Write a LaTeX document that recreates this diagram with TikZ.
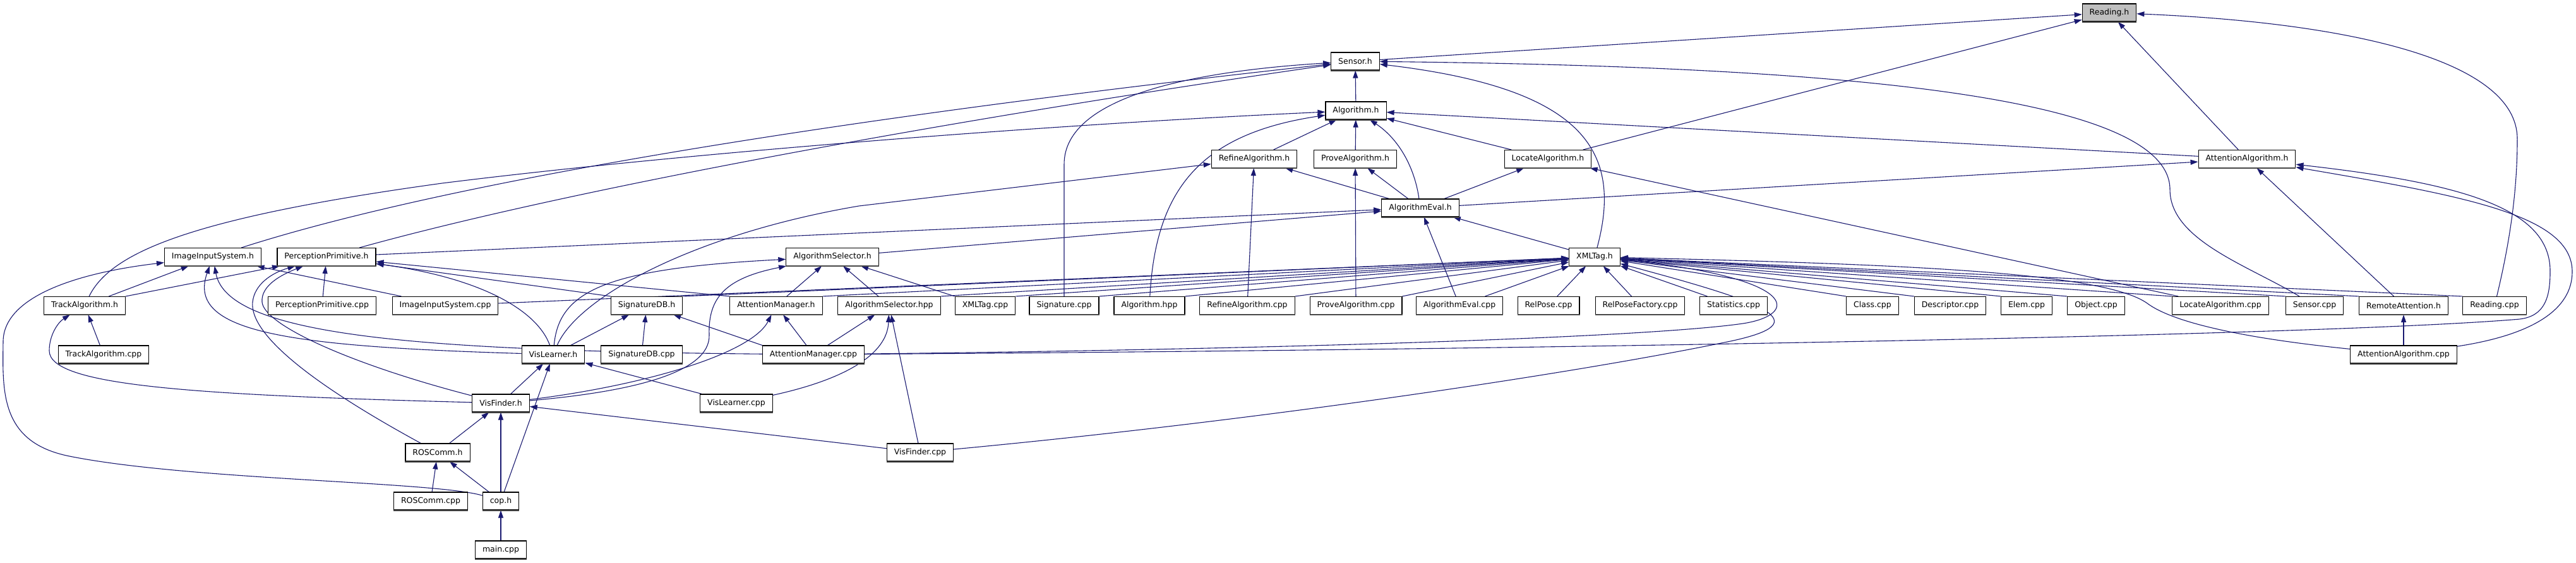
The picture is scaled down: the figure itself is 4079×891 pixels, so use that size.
\documentclass[tikz,border=0pt]{standalone}
\usepackage{fontspec}
\setmainfont{DejaVu Sans}
\usetikzlibrary{arrows.meta,backgrounds}
\definecolor{edgeblue}{RGB}{25,25,112}
\definecolor{shadowgray}{RGB}{70,70,70}
\definecolor{readgray}{RGB}{191,191,191}
\tikzset{
  box/.style={draw=black, line width=1.1pt, fill=white, rectangle, minimum height=28pt,
    inner xsep=11.5pt, inner ysep=0pt, font=\fontsize{12.5}{15}\selectfont},
  e/.style={draw=edgeblue, line width=1.1pt, -{Triangle[length=12pt,width=8pt]}},
}
\begin{document}
\begin{tikzpicture}[x=1pt,y=-1pt]
\useasboundingbox (0,0) rectangle (4079,891);
% row 0-4
\node[box,fill=readgray] (rh) at (3340,20) {Reading.h};
\node[box] (sh) at (2146,97) {Sensor.h};
\node[box] (ah) at (2147,175) {Algorithm.h};
\node[box] (rah) at (1986,251.5) {RefineAlgorithm.h};
\node[box] (pah) at (2146,251.5) {ProveAlgorithm.h};
\node[box] (lah) at (2451,251.5) {LocateAlgorithm.h};
\node[box] (aah) at (3558,251.5) {AttentionAlgorithm.h};
\node[box] (aeh) at (2249,329) {AlgorithmEval.h};
% row 5
\node[box] (iish) at (337,406.5) {ImageInputSystem.h};
\node[box] (pph) at (517,406.5) {PerceptionPrimitive.h};
\node[box] (ash) at (1318,406.5) {AlgorithmSelector.h};
\node[box] (xh) at (2525,406.5) {XMLTag.h};
% row 6
\node[box] (tah) at (134,483.5) {TrackAlgorithm.h};
\node[box] (ppc) at (510,483.5) {PerceptionPrimitive.cpp};
\node[box] (iisc) at (705,483.5) {ImageInputSystem.cpp};
\node[box] (sdh) at (1024,483.5) {SignatureDB.h};
\node[box] (amh) at (1229,483.5) {AttentionManager.h};
\node[box] (ashpp) at (1408,483.5) {AlgorithmSelector.hpp};
\node[box] (xc) at (1560,483.5) {XMLTag.cpp};
\node[box] (sigc) at (1685,483.5) {Signature.cpp};
\node[box] (ahpp) at (1820,483.5) {Algorithm.hpp};
\node[box] (rac) at (1975,483.5) {RefineAlgorithm.cpp};
\node[box] (pac) at (2147,483.5) {ProveAlgorithm.cpp};
\node[box] (aec) at (2311,483.5) {AlgorithmEval.cpp};
\node[box] (rpc) at (2452,483.5) {RelPose.cpp};
\node[box] (rpfc) at (2597,483.5) {RelPoseFactory.cpp};
\node[box] (stc) at (2745,483.5) {Statistics.cpp};
\node[box] (clc) at (2965,483.5) {Class.cpp};
\node[box] (dec) at (3088,483.5) {Descriptor.cpp};
\node[box] (elc) at (3209,483.5) {Elem.cpp};
\node[box] (obc) at (3319,483.5) {Object.cpp};
\node[box] (lac) at (3516,483.5) {LocateAlgorithm.cpp};
\node[box] (sec) at (3665,483.5) {Sensor.cpp};
\node[box] (rath) at (3806,483.5) {RemoteAttention.h};
\node[box] (rc) at (3950,483.5) {Reading.cpp};
% row 7
\node[box] (tac) at (164,561) {TrackAlgorithm.cpp};
\node[box] (vlh) at (876,561) {VisLearner.h};
\node[box] (sdc) at (1016,561) {SignatureDB.cpp};
\node[box] (amc) at (1288,561) {AttentionManager.cpp};
\node[box] (aac) at (3806,561) {AttentionAlgorithm.cpp};
% row 8-11
\node[box] (vfh) at (793,638) {VisFinder.h};
\node[box] (vlc) at (1166,638) {VisLearner.cpp};
\node[box] (rch) at (693,716) {ROSComm.h};
\node[box] (vfc) at (1457,716) {VisFinder.cpp};
\node[box] (rcc) at (682,793) {ROSComm.cpp};
\node[box] (coph) at (793,793) {cop.h};
\node[box] (mainc) at (793,870) {main.cpp};
% shadow lines
\foreach \n in {rh,sh,ah,rah,pah,lah,aah,aeh,iish,pph,ash,xh,tah,ppc,iisc,sdh,amh,ashpp,xc,sigc,ahpp,rac,pac,aec,rpc,rpfc,stc,clc,dec,elc,obc,lac,sec,rath,rc,tac,vlh,sdc,amc,aac,vfh,vlc,rch,vfc,rcc,coph,mainc}
  \draw[shadowgray, line width=2pt] (\n.south west) -- (\n.south east);

\begin{scope}[on background layer]
% into Reading.h
\draw[e] (sh) -- (rh);
\draw[e] (lah) -- (rh);
\draw[e] (aah) -- (rh);
\draw[e] (rc) .. controls (3975,380) and (3986,300) .. (3986,220) .. controls (3986,90) and (3700,35) .. (rh);
% into Sensor.h
\draw[e] (ah) -- (sh);
\draw[e] (iish) .. controls (700,290) and (1300,190) .. (sh);
\draw[e] (pph) .. controls (900,300) and (1500,190) .. (sh);
\draw[e] (sigc) -- (1685,260) .. controls (1685,150) and (1900,112) .. (sh);
\draw[e] (sec) .. controls (3560,420) and (3436,380) .. (3436,300) .. controls (3436,150) and (2900,105) .. (sh);
\draw[e] (xh) .. controls (2570,240) and (2510,140) .. (sh);
% into Algorithm.h
\draw[e] (tah) .. controls (175,400) and (300,345) .. (700,290) .. controls (1100,240) and (1700,195) .. (ah);
\draw[e] (ahpp) .. controls (1830,300) and (1900,212) .. (ah);
\draw[e] (rah) -- (ah);
\draw[e] (pah) -- (ah);
\draw[e] (aeh) .. controls (2240,265) and (2215,220) .. (ah);
\draw[e] (lah) -- (ah);
\draw[e] (aah) -- (ah);
% into RefineAlgorithm.h, ProveAlgorithm.h, LocateAlgorithm.h
\draw[e] (vlh) .. controls (915,470) and (1100,370) .. (1360,326) -- (rah);
\draw[e] (rac) -- (rah);
\draw[e] (aeh) -- (rah);
\draw[e] (pac) -- (pah);
\draw[e] (aeh) -- (pah);
\draw[e] (aeh) -- (lah);
\draw[e] (lac) -- (lah);
% into AttentionAlgorithm.h
\draw[e] (aeh) -- (aah);
\draw[e] (rath) -- (aah);
\draw[e] (amc) .. controls (2500,553) and (3700,530) .. (3990,505) .. controls (4030,500) and (4038,470) .. (4038,430) .. controls (4039,330) and (3900,290) .. (aah);
\draw[e] (aac) .. controls (4010,530) and (4073,490) .. (4073,430) .. controls (4073,340) and (3900,310) .. (aah);
% into AlgorithmEval.h
\draw[e] (pph) -- (aeh);
\draw[e] (ash) -- (aeh);
\draw[e] (aec) -- (aeh);
\draw[e] (xh) -- (aeh);
% into AlgorithmSelector.h
\draw[e] (vlh) .. controls (885,460) and (960,425) .. (ash);
\draw[e] (vfh) .. controls (1000,620) and (1125,590) .. (1123,530) .. controls (1121,470) and (1150,440) .. (ash);
\draw[e] (amh) -- (ash);
\draw[e] (ashpp) -- (ash);
\draw[e] (xc.north west) -- (ash);
% into XMLTag.h
\draw[e] (iisc) -- (xh);
\draw[e] (sdh.north east) -- (xh);
\draw[e] (amh.north east) -- (xh);
\draw[e] (ashpp.north east) -- (xh);
\draw[e] (xc.north east) -- (xh);
\draw[e] (sigc.north east) -- (xh);
\draw[e] (ahpp.north east) -- (xh);
\draw[e] (rac.north east) -- (xh);
\draw[e] (pac.north east) -- (xh);
\draw[e] (aec) -- (xh);
\draw[e] (rpc) -- (xh);
\draw[e] (rpfc) -- (xh);
\draw[e] (stc) -- (xh);
\draw[e] (clc.north west) -- (xh);
\draw[e] (dec.north west) -- (xh);
\draw[e] (elc.north west) -- (xh);
\draw[e] (obc.north west) -- (xh);
\draw[e] (lac.north west) -- (xh);
\draw[e] (sec.north west) -- (xh);
\draw[e] (rath.north west) -- (xh);
\draw[e] (rc.north west) -- (xh);
\draw[e] (amc) .. controls (2000,553) and (2600,535) .. (2760,512) .. controls (2850,498) and (2850,440) .. (xh);
\draw[e] (vfc) .. controls (2000,665) and (2500,590) .. (2740,540) .. controls (2880,510) and (2800,480) .. (xh);
\draw[e] (aac) .. controls (3550,535) and (3440,510) .. (3400,480) .. controls (3330,430) and (3000,418) .. (xh);
% into ImageInputSystem.h
\draw[e] (tah) -- (iish);
\draw[e] (iisc) -- (iish);
\draw[e] (vlh) .. controls (450,548) and (295,525) .. (iish);
\draw[e] (amc) .. controls (650,555) and (360,530) .. (iish);
\draw[e] (coph) .. controls (690,762) and (300,760) .. (110,722) .. controls (0,700) and (4,620) .. (5,540) .. controls (6,470) and (120,432) .. (iish);
% into PerceptionPrimitive.h
\draw[e] (tah.north east) -- (pph);
\draw[e] (ppc) -- (pph);
\draw[e] (sdh.north west) -- (pph);
\draw[e] (amh.north west) -- (pph);
\draw[e] (rch) .. controls (480,600) and (395,525) .. (400,478) .. controls (403,450) and (430,432) .. (pph);
\draw[e] (vfh) .. controls (560,578) and (418,515) .. (415,478) .. controls (413,452) and (445,435) .. (pph);
\draw[e] (vlh) .. controls (850,490) and (760,440) .. (pph);
% into TrackAlgorithm.h
\draw[e] (vfh) .. controls (300,625) and (78,610) .. (78,555) .. controls (78,530) and (92,510) .. (tah);
\draw[e] (tac) -- (tah);
% into SignatureDB.h, AttentionManager.h, AlgorithmSelector.hpp
\draw[e] (vlh) -- (sdh);
\draw[e] (sdc) -- (sdh);
\draw[e] (amc.north west) -- (sdh);
\draw[e] (vfh) .. controls (1020,610) and (1190,560) .. (amh);
\draw[e] (amc) -- (amh);
\draw[e] (amc) -- (ashpp);
\draw[e] (vfc) -- (ashpp);
\draw[e] (vlc) .. controls (1340,600) and (1405,560) .. (ashpp);
% into VisLearner.h, VisFinder.h, ROSComm.h, cop.h, RemoteAttention.h
\draw[e] (vfh) -- (vlh);
\draw[e] (coph) -- (vlh);
\draw[e] (vlc) -- (vlh);
\draw[e] (rch) -- (vfh);
\draw[e] (coph) -- (vfh);
\draw[e] (vfc) -- (vfh);
\draw[e] (rcc) -- (rch);
\draw[e] (coph) -- (rch);
\draw[e] (mainc) -- (coph);
\draw[e] (aac) -- (rath);
\end{scope}
\end{tikzpicture}
\end{document}
